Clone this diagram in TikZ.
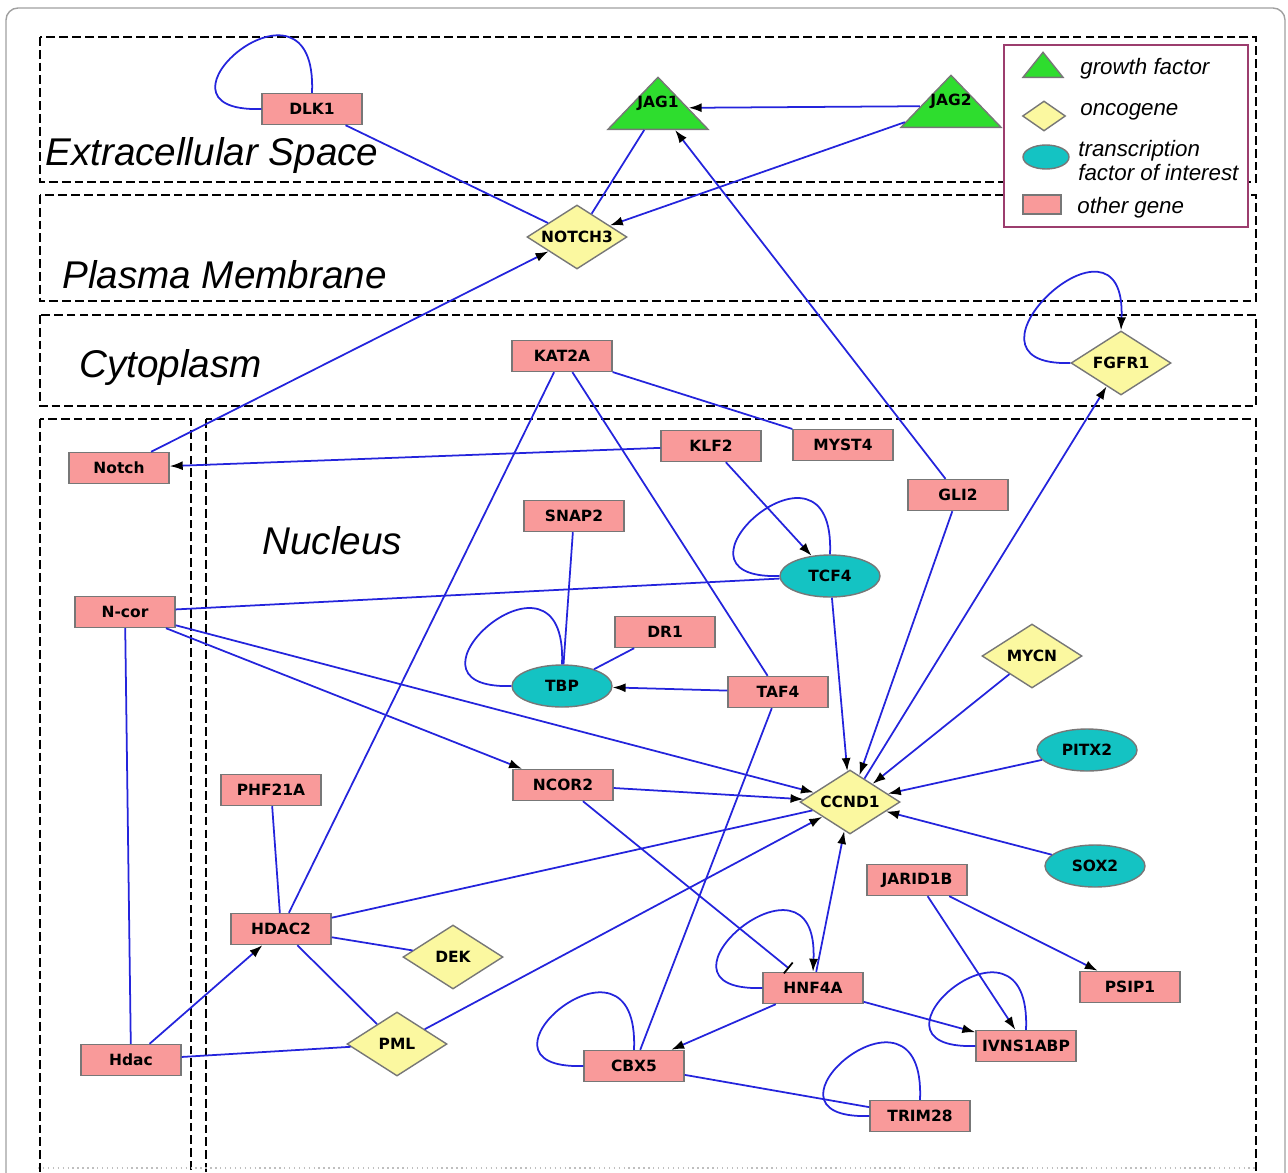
\documentclass[tikz,border=0pt]{standalone}
\usepackage{fontspec}
\setmainfont{Liberation Sans}
\newfontfamily\genefont{DejaVu Sans}
\usetikzlibrary{arrows.meta,shapes.geometric}
\definecolor{genepink}{HTML}{F99A9A}
\definecolor{oncoyellow}{HTML}{FBF8A0}
\definecolor{tfcyan}{HTML}{14C3C3}
\definecolor{growthgreen}{HTML}{2EDD2E}
\definecolor{nodegray}{HTML}{777777}
\definecolor{edgeblue}{HTML}{2424DC}
\definecolor{legendline}{HTML}{9C3D6E}
\definecolor{framegray}{HTML}{A0A0A0}
\begin{document}
\begin{tikzpicture}[x=0.2mm,y=-0.2mm,
    every node/.style={font=\genefont\bfseries\fontsize{8.8}{10}\selectfont},
    gene/.style={rectangle,draw=nodegray,line width=0.8pt,fill=genepink,minimum width=2cm,minimum height=0.62cm,inner sep=0pt},
    onco/.style={diamond,draw=nodegray,line width=0.8pt,fill=oncoyellow,aspect=1.56,minimum width=2cm,minimum height=1.28cm,inner sep=0pt},
    tf/.style={ellipse,draw=nodegray,line width=0.8pt,fill=tfcyan,minimum width=2cm,minimum height=0.84cm,inner sep=0pt},
    growth/.style={isosceles triangle,shape border rotate=90,isosceles triangle stretches,draw=nodegray,line width=0.8pt,fill=growthgreen,minimum width=2cm,minimum height=1.04cm,inner sep=0pt},
    region/.style={draw=black,line width=0.7pt,dash pattern=on 5pt off 2.3pt},
    zone/.style={font=\itshape\fontsize{22}{24}\selectfont,anchor=west,inner sep=0pt},
    legtext/.style={font=\itshape\fontsize{12.7}{14.2}\selectfont,anchor=west,inner sep=0pt,align=left},
    edge/.style={draw=edgeblue,line width=1pt},
    arr/.style={edge,-{Latex[length=2.6mm,width=1.8mm,color=black]}},
    inh/.style={edge,-{Bar[width=2.8mm,color=black]}}]
  \useasboundingbox (0,0) rectangle (1288,1172);
  \draw[framegray,line width=0.8pt,rounded corners=2.4mm] (6,8) rectangle (1285,1260);
  % compartments
  \draw[region] (40,37) rectangle (1256,182);
  \draw[region] (40,195) rectangle (1256,301);
  \draw[region] (40,315) rectangle (1256,406);
  \draw[region] (40,419) rectangle (191,1200);
  \draw[region] (206,419) rectangle (1256,1200);
  \draw[black!25,dotted,line width=0.8pt] (38,1168) -- (1256,1168);
  \node[zone] (extra) at (45,156) {Extracellular Space};
  \node[zone] (plasma) at (62,275) {Plasma Membrane};
  \node[zone] (cyto) at (79,367) {Cytoplasm};
  \node[zone] (nucl) at (262,541) {Nucleus};
  % genes
  \node[gene] (dlk1) at (312,109) {DLK1};
  \node[growth,anchor=lower side] (jag1) at (658,130) {};
  \node at (658,103) {JAG1};
  \node[growth,anchor=lower side] (jag2) at (951,128) {};
  \node at (951,101) {JAG2};
  \node[onco] (notch3) at (577,237) {NOTCH3};
  \node[gene] (kat2a) at (562,356) {KAT2A};
  \node[onco] (fgfr1) at (1121,363) {FGFR1};
  \node[gene] (notch) at (119,468) {Notch};
  \node[gene] (klf2) at (711,446) {KLF2};
  \node[gene] (myst4) at (843,445) {MYST4};
  \node[gene] (gli2) at (958,495) {GLI2};
  \node[gene] (snap2) at (574,516) {SNAP2};
  \node[tf] (tcf4) at (830,576) {TCF4};
  \node[gene] (ncor) at (125,612) {N-cor};
  \node[gene] (dr1) at (665,632) {DR1};
  \node[tf] (tbp) at (562,686) {TBP};
  \node[gene] (taf4) at (778,692) {TAF4};
  \node[onco] (mycn) at (1032,656) {MYCN};
  \node[tf] (pitx2) at (1087,750) {PITX2};
  \node[gene] (ncor2) at (563,785) {NCOR2};
  \node[gene] (phf21a) at (271,790) {PHF21A};
  \node[onco] (ccnd1) at (850,802) {CCND1};
  \node[tf] (sox2) at (1095,866) {SOX2};
  \node[gene] (jarid1b) at (917,880) {JARID1B};
  \node[gene] (hdac2) at (281,929) {HDAC2};
  \node[onco] (dek) at (453,957) {DEK};
  \node[gene] (hnf4a) at (813,988) {HNF4A};
  \node[gene] (psip1) at (1130,987) {PSIP1};
  \node[onco] (pml) at (397,1044) {PML};
  \node[gene] (ivns) at (1026,1046) {IVNS1ABP};
  \node[gene] (hdac) at (131,1060) {Hdac};
  \node[gene] (cbx5) at (634,1066) {CBX5};
  \node[gene] (trim28) at (920,1116) {TRIM28};
  % interactions
  \foreach \a/\b in {dlk1/notch3,jag1/notch3,kat2a/myst4,kat2a/hdac2,kat2a/taf4,tcf4/ncor,snap2/tbp,dr1/tbp,taf4/cbx5,hdac2/ccnd1,phf21a/hdac2,hdac2/dek,hdac2/pml,hdac/pml,ncor/hdac,cbx5/trim28}
    \draw[edge] (\a) -- (\b);
  \foreach \a/\b in {jag2/jag1,jag2/notch3,gli2/jag1,notch/notch3,klf2/notch,klf2/tcf4,tcf4/ccnd1,gli2/ccnd1,ccnd1/fgfr1,mycn/ccnd1,pitx2/ccnd1,sox2/ccnd1,ncor/ccnd1,ncor/ncor2,ncor2/ccnd1,taf4/tbp,pml/ccnd1,hdac/hdac2,hnf4a/ccnd1,hnf4a/cbx5,hnf4a/ivns,jarid1b/ivns,jarid1b/psip1}
    \draw[arr] (\a) -- (\b);
  \draw[inh,shorten >=3pt] (ncor2) -- (hnf4a);
  % self loops
  \foreach \n in {dlk1,tcf4,tbp,ivns,cbx5,trim28}
    \draw[edge] (\n.west) .. controls +(-130,4) and +(6,-140) .. (\n.north);
  \foreach \n in {fgfr1,hnf4a}
    \draw[arr] (\n.west) .. controls +(-130,4) and +(6,-140) .. (\n.north);
  % legend
  \draw[legendline,line width=0.7pt,fill=white] (1004,45) rectangle (1248,227);
  \node[growth,minimum width=0.8cm,minimum height=0.5cm,anchor=lower side] (leggrowth) at (1043,78) {};
  \node[onco,minimum width=0.86cm,minimum height=0.6cm] (legonco) at (1044,116) {};
  \node[tf,minimum width=0.92cm,minimum height=0.48cm] (legtf) at (1046,157) {};
  \node[gene,minimum width=0.76cm,minimum height=0.38cm] (leggene) at (1042,204.5) {};
  \node[legtext] at (1080,69) {growth factor};
  \node[legtext] at (1080,112) {oncogene};
  \node[legtext] at (1078,160.5) {transcription\\factor of interest};
  \node[legtext] at (1077,208) {other gene};
\end{tikzpicture}
\end{document}
